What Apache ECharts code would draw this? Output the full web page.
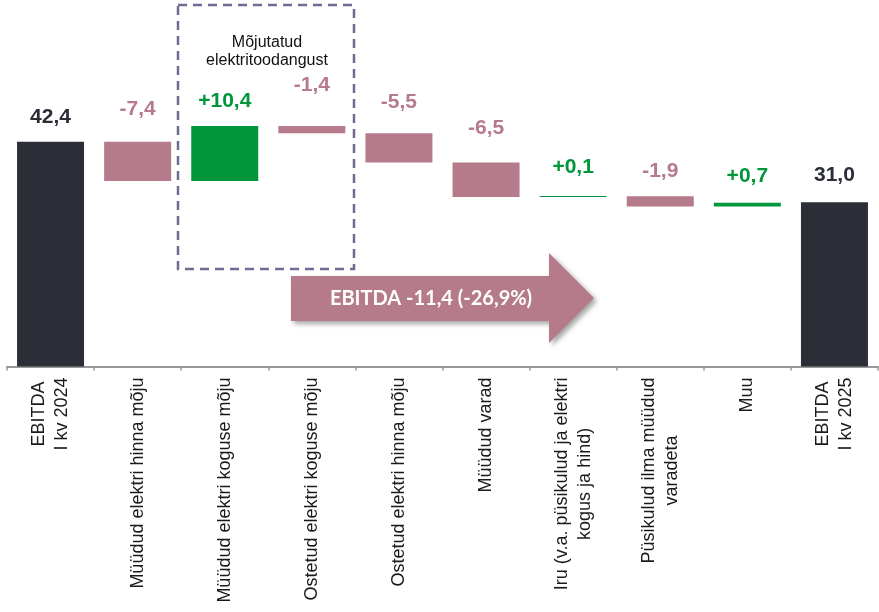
<!DOCTYPE html>
<html>
<head>
<meta charset="utf-8">
<script src="https://cdn.jsdelivr.net/npm/echarts@6/dist/echarts.min.js"></script>
<style>
    html, body {margin: 0; padding: 0; background: #fff;}
    #main {width: 879px; height: 612px;}
</style>
</head>
<body>
<div id="main"></div>
<script>
// kategooriad (x-telg)
var categories = [
    'EBITDA\nI kv 2024',
    'Müüdud elektri hinna mõju',
    'Müüdud elektri koguse mõju',
    'Ostetud elektri koguse mõju',
    'Ostetud elektri hinna mõju',
    'Müüdud varad',
    'Iru (v.a. püsikulud ja elektri\nkogus ja hind)',
    'Püsikulud ilma müüdud\nvaradeta',
    'Muu',
    'EBITDA\nI kv 2025'
];
// muutused, esimene ja viimane on kogusummad
var values = [42.4, -7.4, 10.4, -1.4, -5.5, -6.5, 0.1, -1.9, 0.7, 31.0];
var isTotal = [true, false, false, false, false, false, false, false, false, true];
var boxTitle = 'Mõjutatud\nelektritoodangust';
var arrowText = 'EBITDA -11,4 (-26,9%)';

var colors = {
    total: '#2b2e37',
    neg: '#b67b8a',
    pos: '#00963a'
};
// sildi kaugus tulbast (ainult stiil)
var labelGap = [14, 22, 14, 30, 21, 24, 18, 15, 16, 16];

function fmt(v, total){
    var s = Math.abs(v).toFixed(1).replace('.', ',');
    if(total) return s;
    return (v < 0 ? '-' : '+') + s;
}

var base = [], visible = [];
var run = 0;
for(var i = 0; i < values.length; i++){
    var v = values[i];
    var c = isTotal[i] ? colors.total : (v < 0 ? colors.neg : colors.pos);
    var start, h;
    if(isTotal[i]){
        start = 0; h = v; run = v;
    } else {
        start = v < 0 ? run + v : run;
        h = Math.abs(v);
        run = run + v;
    }
    base.push(+start.toFixed(2));
    visible.push({
        value: +h.toFixed(2),
        itemStyle: {color: c},
        label: {
            color: c,
            distance: labelGap[i],
            formatter: fmt(v, isTotal[i])
        }
    });
}

var chart = echarts.init(document.getElementById('main'));
chart.setOption({
    animation: false,
    grid: {left: 7, right: 1, top: 101.5, bottom: 245.5},
    xAxis: {
        type: 'category',
        data: categories,
        axisLine: {lineStyle: {color: '#999', width: 2}},
        axisTick: {show: true, length: 4, lineStyle: {color: '#999', width: 1.5}},
        axisLabel: {
            interval: 0,
            rotate: 90,
            margin: 11,
            formatter: function(val){
                return val.split('\n').map(function(l){ return '{c|' + l + '}'; }).join('\n');
            },
            rich: {
                c: {
                    align: 'center',
                    fontFamily: 'Liberation Sans, Arial, sans-serif',
                    fontSize: 18,
                    lineHeight: 23,
                    color: '#1a1a1a'
                }
            }
        }
    },
    yAxis: {
        type: 'value',
        show: false,
        min: 0,
        max: 50
    },
    series: [{
        type: 'bar',
        stack: 'wf',
        silent: true,
        itemStyle: {color: 'transparent'},
        data: base
    }, {
        type: 'bar',
        stack: 'wf',
        barWidth: 67,
        barMinHeight: 1,
        label: {
            show: true,
            position: 'top',
            fontFamily: 'Liberation Sans, Arial, sans-serif',
            fontSize: 21,
            fontWeight: 'bold'
        },
        data: visible
    }],
    graphic: [{
        type: 'rect',
        shape: {x: 178, y: 5, width: 176, height: 264},
        style: {
            fill: 'none',
            stroke: '#6e6c90',
            lineWidth: 2.5,
            lineDash: [9, 6]
        }
    }, {
        type: 'text',
        x: 267,
        y: 52,
        style: {
            text: boxTitle,
            align: 'center',
            verticalAlign: 'middle',
            fontFamily: 'Liberation Sans, Arial, sans-serif',
            fontSize: 16,
            lineHeight: 18,
            fill: '#111'
        }
    }, {
        type: 'polygon',
        shape: {
            points: [[291, 276], [549, 276], [549, 253], [594, 298], [549, 343], [549, 321], [291, 321]]
        },
        style: {
            fill: colors.neg,
            shadowColor: 'rgba(0,0,0,0.35)',
            shadowBlur: 5,
            shadowOffsetX: 3,
            shadowOffsetY: 3
        }
    }, {
        type: 'text',
        x: 431,
        y: 299,
        style: {
            text: arrowText,
            align: 'center',
            verticalAlign: 'middle',
            fontFamily: 'Lato, sans-serif',
            fontWeight: 'bold',
            fontSize: 20,
            fill: '#fff'
        }
    }]
});
</script>
</body>
</html>
